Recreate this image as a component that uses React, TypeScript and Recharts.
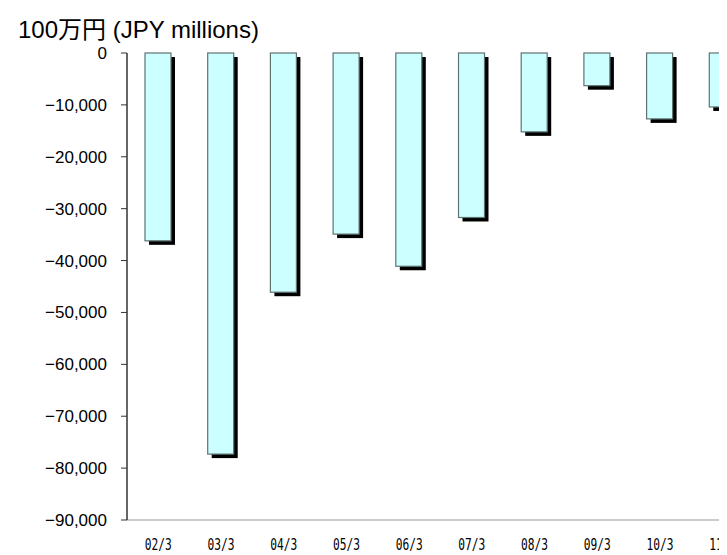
import React from 'react'
import { BarChart, Bar, XAxis, YAxis } from 'recharts'

const categories = ['02/3', '03/3', '04/3', '05/3', '06/3', '07/3', '08/3', '09/3', '10/3', '11/3']
const values = [-36200, -77300, -46100, -34900, -41100, -31700, -15200, -6300, -12700, -10400]
const yTicks = [0, -10000, -20000, -30000, -40000, -50000, -60000, -70000, -80000, -90000]

const data = categories.map((name, i) => ({ name, value: values[i] }))

const W = 760
const H = 547
const Y_AXIS_W = 119
const RIGHT = 14
const band = (W - Y_AXIS_W - RIGHT) / categories.length

const fmtY = (v: number) => (v === 0 ? '0' : '\u2212' + Math.abs(v).toLocaleString('en-US'))

function ShadowBar(props: any) {
  const { x, y, width, height } = props
  const top = Math.min(y, y + height)
  const h = Math.abs(height)
  return (
    <g>
      <rect x={x + 4} y={top + 4} width={width} height={h} fill="#000" />
      <rect x={x} y={top} width={width} height={h} fill="#CCFFFF" stroke="#5f7373" strokeWidth={1.2} />
    </g>
  )
}

function TopTick(props: any) {
  const { x, y } = props
  const bx = x + band / 2
  return <line x1={bx} y1={y} x2={bx} y2={y - 5} stroke="#444" strokeWidth={1} />
}

function BottomTick(props: any) {
  const { x, y, payload } = props
  return (
    <text
      x={x}
      y={y + 30}
      textAnchor="middle"
      fontFamily="'DejaVu Sans Mono', monospace"
      fontSize={16}
      textLength={27}
      lengthAdjust="spacingAndGlyphs"
      fill="#000"
    >
      {payload.value}
    </text>
  )
}

export default function App() {
  return (
    <div style={{ position: 'relative', width: W, height: H }}>
      <div
        style={{
          position: 'absolute',
          left: 10,
          top: 2,
          fontFamily: "'Liberation Sans', Arial, 'Noto Sans CJK JP', sans-serif",
          fontSize: 24,
          color: '#000',
          whiteSpace: 'nowrap',
        }}
      >
        100万円 (JPY millions)
      </div>
      <BarChart
        width={W}
        height={H}
        data={data}
        margin={{ top: 45, right: RIGHT, bottom: 5, left: 0 }}
        barCategoryGap={0}
      >
        <XAxis
          xAxisId="top"
          orientation="top"
          dataKey="name"
          height={0}
          axisLine={{ stroke: '#333', strokeWidth: 1.5 }}
          tickLine={false}
          tickSize={0}
          tickMargin={0}
          tick={<TopTick />}
          interval={0}
        />
        <XAxis
          xAxisId="bottom"
          dataKey="name"
          height={30}
          axisLine={{ stroke: '#cccccc', strokeWidth: 2 }}
          tickLine={false}
          tickSize={0}
          tickMargin={0}
          tick={<BottomTick />}
          interval={0}
        />
        <YAxis
          width={Y_AXIS_W}
          domain={[-90000, 0]}
          ticks={yTicks}
          interval={0}
          tickFormatter={fmtY}
          axisLine={{ stroke: '#333', strokeWidth: 1.5 }}
          tickLine={{ stroke: '#333' }}
          tickSize={6}
          tickMargin={14}
          tick={{ fill: '#000', fontSize: 17, fontFamily: "'Liberation Sans', Arial, sans-serif" }}
        />
        <Bar
          xAxisId="bottom"
          dataKey="value"
          barSize={26}
          shape={<ShadowBar />}
          isAnimationActive={false}
        />
      </BarChart>
    </div>
  )
}
